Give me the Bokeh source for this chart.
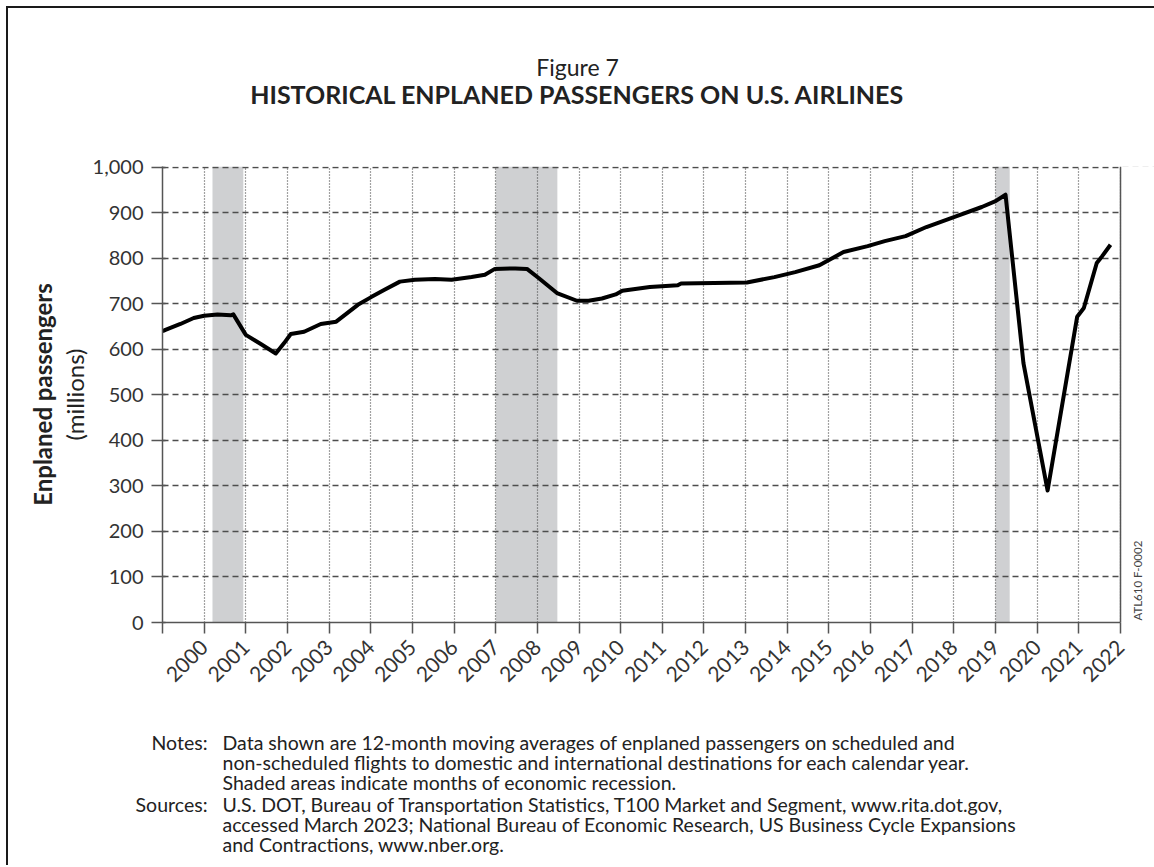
from math import pi
from bokeh.plotting import figure
from bokeh.layouts import column
from bokeh.models import Range1d, FixedTicker, Span, NumeralTickFormatter, LinearAxis
from bokeh.core.properties import value
from bokeh.embed import file_html
from bokeh.resources import INLINE

# ---- data ----
years = [2000.0, 2000.07, 2000.43, 2000.75, 2001.0, 2001.32, 2001.64, 2001.7, 2002.0,
         2002.36, 2002.72, 2002.92, 2003.08, 2003.4, 2003.8, 2004.17, 2004.69, 2005.01,
         2005.33, 2005.7, 2006.06, 2006.54, 2006.94, 2007.42, 2007.74, 2007.98, 2008.47,
         2008.75, 2009.03, 2009.47, 2009.95, 2010.23, 2010.55, 2010.88, 2011.04, 2011.7,
         2012.37, 2012.45, 2014.03, 2014.69, 2015.19, 2015.77, 2016.35, 2016.93, 2017.34,
         2017.84, 2018.34, 2019.0, 2019.67, 2020.0, 2020.24, 2020.67, 2021.25, 2021.96,
         2022.12, 2022.43, 2022.56, 2022.76]
passengers = [640, 643, 656, 669, 674, 677, 675, 677, 632,
              612, 591, 614, 634, 639, 656, 661, 698, 715,
              731, 749, 753, 755, 753, 759, 764, 777, 778,
              777, 757, 724, 707, 707, 712, 721, 729, 737,
              741, 745, 747, 759, 770, 785, 814, 827, 838,
              849, 869, 891, 913, 926, 940, 570, 290, 672,
              691, 790, 805, 830]
rec_start = [2001.2, 2008.0, 2020.0]
rec_end = [2001.94, 2009.48, 2020.34]
y_ticks = list(range(0, 1001, 100))
x_ticks = list(range(2000, 2024))
year_labels = [str(y) for y in range(2000, 2023)]

title_top = "Figure 7"
title_main = "HISTORICAL ENPLANED PASSENGERS ON U.S. AIRLINES"
y_title = "Enplaned passengers"
y_unit = "(millions)"
notes_head = "Notes:"
notes_lines = ["Data shown are 12-month moving averages of enplaned passengers on scheduled and",
               "non-scheduled flights to domestic and international destinations for each calendar year.",
               "Shaded areas indicate months of economic recession."]
sources_head = "Sources:"
sources_lines = ["U.S. DOT, Bureau of Transportation Statistics, T100 Market and Segment, www.rita.dot.gov,",
                 "accessed March 2023; National Bureau of Economic Research, US Business Cycle Expansions",
                 "and Contractions, www.nber.org."]
code_text = "ATL610 F-0002"

FONT = "Lato"
TXT = "#222222"

# page geometry (content starts at page x=8, y=8 after the 6px margin + 2px border)
X0, Y0 = 8, 8
TOTAL_W = 1146
TOP_H, MAIN_H, BOT_H = 130, 562, 165
FRAME_L, FRAME_R_AXIS = 162, 1120          # page x of 2000 and 2023
PX_PER_YEAR = (FRAME_R_AXIS - FRAME_L) / 23.0
X_END = 2023 + (X0 + TOTAL_W - FRAME_R_AXIS) / PX_PER_YEAR


def no_align(f):
    try:
        f.frame_align = False
    except Exception:
        pass
    return f


def text_panel(x0, x1, y0, y1):
    f = figure(width=x1 - x0, height=y1 - y0, output_backend="svg", toolbar_location=None,
               x_range=Range1d(x0, x1), y_range=Range1d(y1, y0),
               x_axis_type=None, y_axis_type=None, outline_line_color=None,
               min_border_left=0, min_border_right=0, min_border_top=0, min_border_bottom=0)
    f.background_fill_color = "white"
    f.border_fill_color = "white"
    return no_align(f)


def put(f, t, x, y, size, bold=False, align="left", angle=0.0, color=TXT):
    f.text(x=[x], y=[y], text=[t], text_font=value(FONT), text_font_size=value(size),
           text_font_style="bold" if bold else "normal", text_align=align,
           text_baseline="middle", angle=angle, text_color=color)


# ---- title panel ----
top = text_panel(X0, X0 + TOTAL_W, Y0, Y0 + TOP_H)
put(top, title_top, 577, 66, "23px", align="center")
put(top, title_main, 577, 93, "25px", bold=True, align="center")

# ---- main chart ----
p = figure(width=TOTAL_W, height=MAIN_H, output_backend="svg", toolbar_location=None,
           x_range=Range1d(2000, X_END), y_range=Range1d(0, 1002),
           min_border_left=FRAME_L - X0, min_border_right=0, min_border_top=28,
           min_border_bottom=78, outline_line_color=None)
no_align(p)
p.background_fill_color = "white"
p.border_fill_color = "white"

p.quad(left=rec_start, right=rec_end, bottom=0, top=1002,
       fill_color="#cfd0d2", line_color=None, level="image")
p.line(years, passengers, line_color="black", line_width=4, line_join="round")

# white margin to the right of the plotting area (hides grid lines beyond 2023)
p.quad(left=[x_ticks[-1] + 0.02], right=[X_END], bottom=[0], top=[1002],
       fill_color="white", line_color=None)
# figure code, printed vertically in the right margin
p.text(x=[2023.41], y=[92], text=[code_text], text_font=value(FONT),
       text_font_size=value("11.5px"), text_align="center", text_baseline="middle",
       angle=pi / 2, text_color="#444")

p.xaxis.ticker = FixedTicker(ticks=x_ticks)
p.xaxis.bounds = (x_ticks[0], x_ticks[-1])
ov = {x_ticks[0]: ""}
ov.update({x_ticks[i + 1]: year_labels[i] for i in range(len(year_labels))})
p.xaxis.major_label_overrides = ov
p.xaxis.major_label_orientation = pi / 4
p.xaxis.major_tick_out = 11
p.xaxis.major_tick_in = 0
p.xaxis.major_label_standoff = 10
p.xaxis.major_label_text_font_size = "21px"

p.yaxis.ticker = FixedTicker(ticks=y_ticks)
p.yaxis.formatter = NumeralTickFormatter(format="0,0")
p.yaxis.major_tick_out = 11
p.yaxis.major_tick_in = 3
p.yaxis.major_label_standoff = 8
p.yaxis.major_label_text_font_size = "20px"
p.yaxis.axis_label = y_unit
p.yaxis.axis_label_standoff = 1
p.yaxis.axis_label_text_font = FONT
p.yaxis.axis_label_text_font_style = "normal"
p.yaxis.axis_label_text_font_size = "24px"
p.yaxis.axis_label_text_color = TXT

for ax in (p.xaxis, p.yaxis):
    ax.minor_tick_line_color = None
    ax.axis_line_color = "#555"
    ax.axis_line_width = 1.5
    ax.major_tick_line_color = "#555"
    ax.major_tick_line_width = 1.5
    ax.major_label_text_font = FONT
    ax.major_label_text_color = "#333"

ax2 = LinearAxis(ticker=FixedTicker(ticks=[]), axis_label=y_title,
                 axis_line_color=None, major_tick_line_color=None, minor_tick_line_color=None,
                 major_tick_out=0, major_tick_in=0, major_label_text_font_size="0px",
                 axis_label_standoff=0, axis_label_text_font=FONT,
                 axis_label_text_font_style="bold", axis_label_text_font_size="24px",
                 axis_label_text_color=TXT)
p.add_layout(ax2, "left")

p.xgrid.ticker = FixedTicker(ticks=x_ticks)
p.xgrid.grid_line_color = "#444"
p.xgrid.grid_line_dash = "1 2"
p.xgrid.grid_line_width = 1.2
p.ygrid.ticker = FixedTicker(ticks=y_ticks)
p.ygrid.grid_line_color = "#4d4d4d"
p.ygrid.grid_line_dash = "6 4"
p.ygrid.grid_line_width = 1.6

p.add_layout(Span(location=x_ticks[-1], dimension="height", line_color="#555", line_width=1.5))

# ---- notes panel ----
bot = text_panel(X0, X0 + TOTAL_W, Y0 + TOP_H + MAIN_H, Y0 + TOP_H + MAIN_H + BOT_H)
notes_y = [742, 762, 782]
sources_y = [804, 824, 844]
put(bot, notes_head, 207, notes_y[0], "19.5px", align="right")
for t, yy in zip(notes_lines, notes_y):
    put(bot, t, 222, yy, "19.5px")
put(bot, sources_head, 207, sources_y[0], "19.5px", align="right")
for t, yy in zip(sources_lines, sources_y):
    put(bot, t, 222, yy, "19.5px")

layout = column(top, p, bot,
                styles={"margin-left": "6px", "margin-top": "6px",
                        "border-top": "2px solid #1a1a1a", "border-left": "2px solid #1a1a1a"})

open("out.html", "w").write(file_html(layout, INLINE))
